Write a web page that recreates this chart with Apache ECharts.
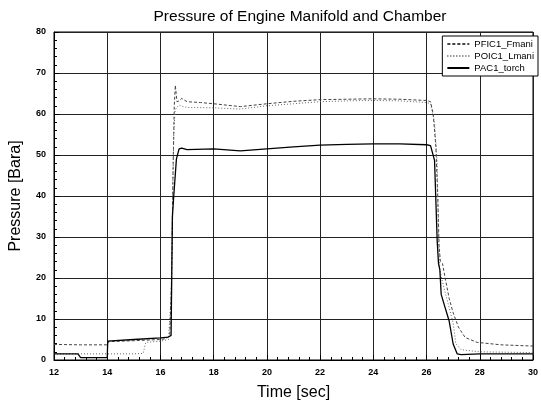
<!DOCTYPE html>
<html><head><meta charset="utf-8">
<script src="https://cdn.jsdelivr.net/npm/echarts@6/dist/echarts.min.js"></script>
<style>html,body{margin:0;padding:0;background:#fff}#c{width:541px;height:412px}</style>
</head><body><div id="c"></div>
<script>
// Time axis tick labels and values
const xTicks = [12,14,16,18,20,22,24,26,28,30];
const yTicks = [0,10,20,30,40,50,60,70,80];

// PFIC1_Fmani (dashed)
const tFmani = [12,13,14,14.05,15,16,16.2,16.35,16.42,16.47,16.52,16.56,16.62,16.7,16.8,17,17.5,18,19,20,21,22,23,24,25,26,26.15,26.25,26.35,26.42,26.47,26.52,26.6,26.7,26.85,27,27.2,27.45,27.9,28.8,30];
const vFmani = [3.8,3.7,3.7,4.5,4.7,5.0,5.2,6,20,45,62,67,63,63.2,63.8,63,62.8,62.5,61.8,62.5,63.1,63.5,63.6,63.7,63.6,63.3,63,60,52,40,28,24,23.5,20,15,11.5,8,5.5,4.3,3.7,3.4];

// POIC1_Lmani (dotted)
const tLmani = [12,13,14,15,15.35,15.45,16,16.3,16.4,16.45,16.5,16.55,16.6,16.7,16.8,17,18,19,20,21,22,23,24,25,26,26.15,26.3,26.4,26.45,26.5,26.6,26.8,27,27.1,27.3,28,30];
const vLmani = [1.5,1.5,1.5,1.5,1.6,4.3,4.6,5,15,35,55,60.8,61.5,62.2,61.9,61.6,61.5,61.2,62,62.5,63,63.2,63.3,63.2,62.8,62.5,58,48,30,22,19,14,9,4,2.5,2,1.8];

// PAC1_torch (solid)
const tTorch = [12,12.9,13,14,14.02,15,16,16.3,16.4,16.45,16.5,16.6,16.7,16.8,17,18,19,20,21,22,23,24,25,26,26.15,26.3,26.4,26.45,26.5,26.55,26.7,26.85,27,27.15,27.3,28,30];
const vTorch = [1.5,1.5,0.6,0.6,4.6,5.0,5.4,5.6,6,35,40,49,51.5,51.7,51.3,51.5,51,51.5,52,52.4,52.6,52.7,52.7,52.5,52.3,48.7,29,23.5,22,16,12.7,9.5,3.9,1.5,1.3,1.5,1.5];

const zip = (t, v) => t.map((x, i) => [x, v[i]]);

const chart = echarts.init(document.getElementById('c'), null, {renderer: 'canvas'});
const axisFont = {fontFamily: 'Liberation Sans, Arial, sans-serif', fontSize: 9, fontWeight: 'bold', color: '#000'};
chart.setOption({
  animation: false,
  backgroundColor: '#fff',
  title: {
    text: 'Pressure of Engine Manifold and Chamber',
    left: 295, top: 4, textAlign: 'center',
    textStyle: {fontFamily: 'Liberation Sans, Arial, sans-serif', fontSize: 15.5, fontWeight: 'normal', color: '#000'}
  },
  legend: {
    orient: 'vertical', right: 3, top: 36,
    backgroundColor: '#fff', borderColor: '#000', borderWidth: 1,
    padding: [3, 4, 3, 4], itemGap: 2, itemWidth: 22, itemHeight: 8,
    itemStyle: {opacity: 0},
    textStyle: {fontFamily: 'Liberation Sans, Arial, sans-serif', fontSize: 9.5, color: '#000'},
    data: ['PFIC1_Fmani', 'POIC1_Lmani', 'PAC1_torch']
  },
  grid: {left: 50, right: 3, top: 32, bottom: 52, show: true, borderColor: '#000', borderWidth: 1},
  xAxis: {
    type: 'value', min: 12, max: 30, interval: 2,
    name: 'Time [sec]', nameLocation: 'middle', nameGap: 25,
    nameTextStyle: {fontFamily: 'Liberation Sans, Arial, sans-serif', fontSize: 16, color: '#000'},
    axisLine: {lineStyle: {color: '#000', width: 1}},
    axisTick: {inside: true, length: 5, lineStyle: {color: '#000'}},
    minorTick: {show: true, splitNumber: 5, length: 3, lineStyle: {color: '#000'}},
    axisLabel: Object.assign({margin: 8, formatter: v => xTicks.includes(v) ? String(v) : ''}, axisFont),
    splitLine: {show: true, lineStyle: {color: '#222', width: 1}}
  },
  yAxis: {
    type: 'value', min: 0, max: 80, interval: 10,
    name: 'Pressure [Bara]', nameLocation: 'middle', nameGap: 30,
    nameTextStyle: {fontFamily: 'Liberation Sans, Arial, sans-serif', fontSize: 16, color: '#000'},
    axisLine: {show: true, lineStyle: {color: '#000', width: 1}},
    axisTick: {show: true, inside: true, length: 5, lineStyle: {color: '#000'}},
    minorTick: {show: true, splitNumber: 5, length: 3, lineStyle: {color: '#000'}},
    axisLabel: Object.assign({margin: 8, formatter: v => yTicks.includes(v) ? String(v) : ''}, axisFont),
    splitLine: {show: true, lineStyle: {color: '#222', width: 1}}
  },
  series: [
    {name: 'PFIC1_Fmani', type: 'line', data: zip(tFmani, vFmani), showSymbol: false, symbol: 'none',
     lineStyle: {color: '#444', width: 1, type: [3, 2]}, itemStyle: {color: '#444'}},
    {name: 'POIC1_Lmani', type: 'line', data: zip(tLmani, vLmani), showSymbol: false, symbol: 'none',
     lineStyle: {color: '#666', width: 1, type: [1, 2]}, itemStyle: {color: '#666'}},
    {name: 'PAC1_torch', type: 'line', data: zip(tTorch, vTorch), showSymbol: false, symbol: 'none',
     lineStyle: {color: '#000', width: 1.3}, itemStyle: {color: '#000'}}
  ]
});
</script></body></html>
